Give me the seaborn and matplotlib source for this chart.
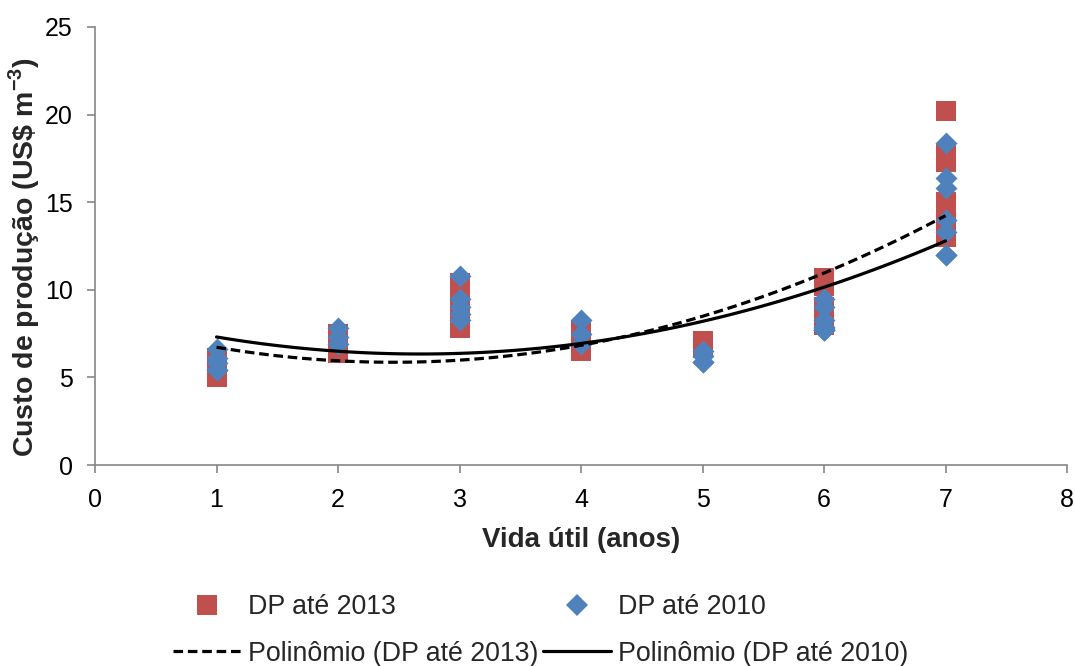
import numpy as np
import pandas as pd
import matplotlib
matplotlib.use("Agg")
import matplotlib.pyplot as plt
import seaborn as sns
from matplotlib.lines import Line2D

# Production cost by service life, two depreciation scenarios
anos_2013 = [1, 1, 1, 1, 1, 1, 1,
             2, 2, 2, 2,
             3, 3, 3, 3, 3, 3,
             4, 4, 4,
             5, 5, 5, 5, 5, 5, 5, 5, 5,
             6, 6, 6, 6, 6, 6,
             7, 7, 7, 7, 7, 7, 7]
custo_2013 = [5.0, 5.0, 5.0, 5.3, 5.6, 5.9, 6.1,
              6.4, 6.8, 7.2, 7.5,
              10.4, 10.0, 9.1, 8.6, 8.2, 7.8,
              7.7, 7.0, 6.5,
              7.1, 7.0, 6.9, 6.8, 6.7, 6.7, 6.7, 6.7, 6.7,
              10.7, 10.2, 9.0, 9.0, 8.5, 8.0,
              20.2, 17.8, 17.3, 15.0, 14.3, 13.6, 13.0]

anos_2010 = [1, 1, 1, 1, 1,
             2, 2, 2,
             3, 3, 3, 3, 3,
             4, 4, 4,
             5, 5, 5, 5,
             6, 6, 6, 6, 6, 6, 6, 6,
             7, 7, 7, 7, 7, 7, 7]
custo_2010 = [6.6, 6.1, 5.8, 5.4, 5.4,
              7.8, 7.3, 6.9,
              10.8, 9.5, 9.0, 8.6, 8.3,
              8.3, 7.5, 6.9,
              6.5, 6.2, 5.9, 5.9,
              9.5, 9.0, 8.3, 7.9, 7.8, 7.7, 7.7, 7.7,
              18.4, 16.4, 15.8, 14.0, 13.3, 12.0, 12.0]

serie_2013 = "DP até 2013"
serie_2010 = "DP até 2010"
x_ticks = [0, 1, 2, 3, 4, 5, 6, 7, 8]
y_ticks = [0, 5, 10, 15, 20, 25]

df13 = pd.DataFrame({"anos": anos_2013, "custo": custo_2013})
df10 = pd.DataFrame({"anos": anos_2010, "custo": custo_2010})

sns.set_style("white")
plt.rcParams["font.family"] = ["Liberation Sans", "DejaVu Sans"]
plt.rcParams["mathtext.fontset"] = "custom"
plt.rcParams["mathtext.rm"] = "Liberation Sans"
plt.rcParams["mathtext.bf"] = "Liberation Sans:bold"

RED = "#C0504D"
BLUE = "#4F81BD"
GRAY = "#868686"

fig = plt.figure(figsize=(10.75, 6.66), dpi=100)
ax = fig.add_axes([0.0884, 0.3018, 0.9042, 0.6577])

sns.scatterplot(data=df13, x="anos", y="custo", ax=ax, marker="s", s=207,
                color=RED, linewidth=0, zorder=2, legend=False)
sns.scatterplot(data=df10, x="anos", y="custo", ax=ax, marker="D", s=125,
                color=BLUE, linewidth=0, zorder=3, legend=False)

# Second-order polynomial trend lines fitted to each series
sns.regplot(data=df13, x="anos", y="custo", ax=ax, order=2, scatter=False,
            ci=None, color="black",
            line_kws=dict(lw=2.3, dashes=(3, 1.5), zorder=4))
sns.regplot(data=df10, x="anos", y="custo", ax=ax, order=2, scatter=False,
            ci=None, color="black", line_kws=dict(lw=2.3, zorder=4))

ax.set_xlim(0, 8)
ax.set_ylim(0, 25)
ax.set_xticks(x_ticks)
ax.set_yticks(y_ticks)
ax.tick_params(axis="both", labelsize=18, colors=GRAY, labelcolor="black",
               length=6, width=1.2, direction="out")
ax.tick_params(axis="x", bottom=True, pad=10.5)
ax.tick_params(axis="y", left=True, pad=10)

for side in ("top", "right"):
    ax.spines[side].set_visible(False)
for side in ("left", "bottom"):
    ax.spines[side].set_color(GRAY)
    ax.spines[side].set_linewidth(1.2)

ax.set_xlabel("Vida útil (anos)", fontsize=20, fontweight="bold",
              labelpad=10.5)
ax.set_ylabel(r"Custo de produção (US\$ m$^{\mathbf{-3}}$)", fontsize=20.5,
              fontweight="bold")
ax.yaxis.set_label_coords(-0.0546, 0.475)

handles = [
    Line2D([], [], ls="none", marker="s", markersize=14.4, color=RED, mew=0),
    Line2D([], [], color="black", lw=2.3, dashes=(3, 1.5)),
    Line2D([], [], ls="none", marker="D", markersize=11.2, color=BLUE, mew=0),
    Line2D([], [], color="black", lw=2.3),
]
labels = [serie_2013, f"Polinômio ({serie_2013})",
          serie_2010, f"Polinômio ({serie_2010})"]
fig.legend(handles, labels, loc="center", bbox_to_anchor=(0.503, 0.0535),
           ncol=2, frameon=False, fontsize=19.3, handlelength=2.54,
           handletextpad=0.26, columnspacing=0.19, labelspacing=0.78)

fig.savefig("out.png", dpi=100)
